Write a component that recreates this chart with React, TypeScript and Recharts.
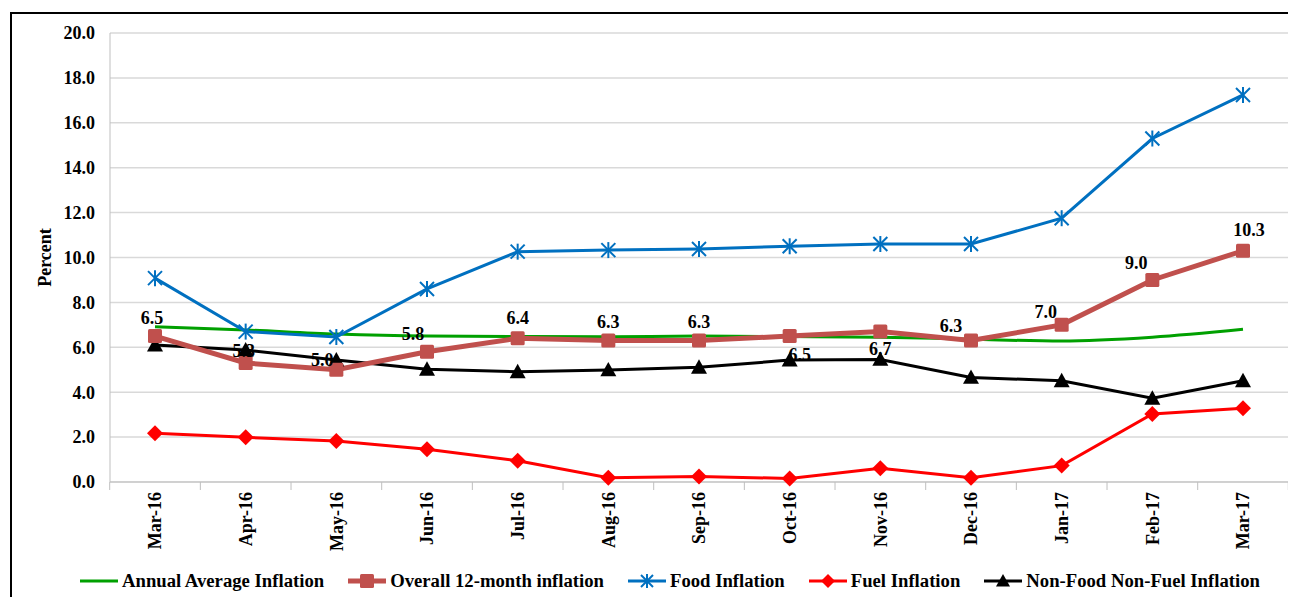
import React from 'react';
import { LineChart, Line, XAxis, YAxis, CartesianGrid, Legend, Label } from 'recharts';

const months = ['Mar-16', 'Apr-16', 'May-16', 'Jun-16', 'Jul-16', 'Aug-16', 'Sep-16', 'Oct-16', 'Nov-16', 'Dec-16', 'Jan-17', 'Feb-17', 'Mar-17'];
const annualAverage = [6.92, 6.77, 6.59, 6.5, 6.48, 6.47, 6.5, 6.48, 6.45, 6.36, 6.28, 6.45, 6.8];
const overall = [6.5, 5.3, 5.0, 5.8, 6.4, 6.3, 6.3, 6.5, 6.7, 6.3, 7.0, 9.0, 10.3];
const food = [9.08, 6.7, 6.46, 8.6, 10.26, 10.33, 10.38, 10.5, 10.6, 10.6, 11.75, 15.3, 17.24];
const fuel = [2.17, 1.99, 1.83, 1.46, 0.95, 0.19, 0.24, 0.16, 0.61, 0.19, 0.73, 3.03, 3.28];
const nonFoodNonFuel = [6.1, 5.88, 5.43, 5.02, 4.91, 4.99, 5.11, 5.43, 5.46, 4.66, 4.51, 3.73, 4.51];
const yTicks = [0, 2, 4, 6, 8, 10, 12, 14, 16, 18, 20];

const seriesNames = {
  annual: 'Annual Average Inflation',
  overall: 'Overall 12-month inflation',
  food: 'Food Inflation',
  fuel: 'Fuel Inflation',
  nonFood: 'Non-Food Non-Fuel Inflation',
};

const data = months.map((m, i) => ({
  month: m,
  annual: annualAverage[i],
  overall: overall[i],
  food: food[i],
  fuel: fuel[i],
  nonFood: nonFoodNonFuel[i],
}));

const FONT = 'Liberation Serif';
const C_GREEN = '#00a000';
const C_OVERALL = '#c0504d';
const C_FOOD = '#0070c0';
const C_FUEL = '#ff0000';
const C_BLACK = '#000000';

const Square = ({ cx, cy, s = 7, color = C_OVERALL }: any) =>
  cx == null ? null : <rect x={cx - s} y={cy - s} width={2 * s} height={2 * s} rx={1.5} fill={color} />;
const Star = ({ cx, cy, s = 7, color = C_FOOD }: any) =>
  cx == null ? null : (
    <g stroke={color} strokeWidth={2}>
      <line x1={cx} y1={cy - s - 1} x2={cx} y2={cy + s + 1} />
      <line x1={cx - s} y1={cy - s} x2={cx + s} y2={cy + s} />
      <line x1={cx - s} y1={cy + s} x2={cx + s} y2={cy - s} />
    </g>
  );
const Diamond = ({ cx, cy, s = 8, color = C_FUEL }: any) =>
  cx == null ? null : <polygon points={`${cx},${cy - s} ${cx + s},${cy} ${cx},${cy + s} ${cx - s},${cy}`} fill={color} />;
const Triangle = ({ cx, cy, s = 8, color = C_BLACK }: any) =>
  cx == null ? null : <polygon points={`${cx},${cy - s} ${cx + s},${cy + s * 0.8} ${cx - s},${cy + s * 0.8}`} fill={color} />;

const labelOffsets: [number, number][] = [
  [-3, -18], [-2, -12], [-14, -10], [-14, -18], [0, -20], [0, -19], [0, -19], [10, 19], [0, 17], [-20, -15], [-16, -13], [-16, -17], [6, -21],
];

const OverallLabel = (props: any) => {
  const { x, y, value, index } = props;
  if (x == null) return null;
  const [dx, dy] = labelOffsets[index] || [0, -18];
  return (
    <text x={x + dx} y={y + dy} textAnchor="middle" dominantBaseline="central" style={{ fontFamily: FONT }} fontWeight="bold" fontSize={18} fill="#000">
      {Number(value).toFixed(1)}
    </text>
  );
};

const XTick = (props: any) => {
  const { x, y, payload, index, width, visibleTicksCount } = props;
  const n = visibleTicksCount || 13;
  const half = width / n / 2;
  return (
    <g>
      <line x1={x - half} y1={y} x2={x - half} y2={y + 8} stroke="#bfbfbf" />
      {index === n - 1 && <line x1={x + half} y1={y} x2={x + half} y2={y + 8} stroke="#bfbfbf" />}
      <text x={x} y={y + 10} transform={`rotate(-90, ${x}, ${y + 10})`} textAnchor="end" dy="0.35em" style={{ fontFamily: FONT }} fontWeight="bold" fontSize={18} fill="#000">
        {payload.value}
      </text>
    </g>
  );
};

const legendItems = [
  { name: seriesNames.annual, color: C_GREEN, marker: null, w: 3 },
  { name: seriesNames.overall, color: C_OVERALL, marker: Square, w: 5 },
  { name: seriesNames.food, color: C_FOOD, marker: Star, w: 3 },
  { name: seriesNames.fuel, color: C_FUEL, marker: Diamond, w: 3 },
  { name: seriesNames.nonFood, color: C_BLACK, marker: Triangle, w: 3 },
];

const LegendContent = () => (
  <div style={{ display: 'flex', alignItems: 'center', height: 30, paddingLeft: 72, fontFamily: FONT, fontWeight: 'bold', fontSize: 18.7, color: '#000' }}>
    {legendItems.map((it, i) => {
      const M: any = it.marker;
      return (
        <div key={i} style={{ display: 'flex', alignItems: 'center', marginRight: 24 }}>
          <svg width={38} height={18} style={{ marginRight: 4 }}>
            <line x1={0} y1={9} x2={38} y2={9} stroke={it.color} strokeWidth={it.w} />
            {M && <M cx={19} cy={9} s={it.marker === Square ? 7 : it.marker === Star ? 6 : 7} color={it.color} />}
          </svg>
          <span>{it.name}</span>
        </div>
      );
    })}
  </div>
);

const YLabel = (props: any) => {
  const vb = props.viewBox || {};
  const x = 37;
  const y = (vb.y || 0) + (vb.height || 0) / 2;
  return (
    <text x={x} y={y} transform={`rotate(-90, ${x}, ${y})`} textAnchor="middle" dominantBaseline="central" style={{ fontFamily: FONT }} fontWeight="bold" fontSize={18} fill="#000">
      Percent
    </text>
  );
};

export default function App() {
  return (
    <div style={{ position: 'relative', width: 1288, height: 589, fontFamily: FONT }}>
      <div style={{ position: 'absolute', left: 2, top: 4, width: 1286, height: 585, borderTop: '2px solid #000', borderLeft: '2px solid #000', boxSizing: 'border-box' }} />
      <LineChart width={1288} height={589} data={data} margin={{ top: 25, right: 8, bottom: 1, left: 0 }}>
        <CartesianGrid horizontal vertical={false} stroke="#d9d9d9" strokeWidth={1.5} />
        <XAxis dataKey="month" stroke="#bfbfbf" tickLine={false} tickSize={0} tickMargin={0} height={84} interval={0} padding={{ left: 45, right: 45 }} tick={<XTick />} />
        <YAxis
          domain={[0, 20]}
          ticks={yTicks}
          width={102}
          stroke="#bfbfbf"
          tickLine={false}
          tickSize={0}
          tickMargin={15}
          tickFormatter={(v: number) => v.toFixed(1)}
          tick={{ style: { fontFamily: FONT }, fontWeight: 'bold', fontSize: 18, fill: '#000' }}
        >
          <Label content={<YLabel />} />
        </YAxis>
        <Legend verticalAlign="bottom" content={<LegendContent />} wrapperStyle={{ left: 0, width: 1288 }} />
        <Line type="monotone" dataKey="annual" name={seriesNames.annual} stroke={C_GREEN} strokeWidth={3} dot={false} isAnimationActive={false} />
        <Line type="linear" dataKey="food" name={seriesNames.food} stroke={C_FOOD} strokeWidth={3} dot={(p: any) => <Star key={p.index} cx={p.cx} cy={p.cy} />} isAnimationActive={false} />
        <Line type="linear" dataKey="fuel" name={seriesNames.fuel} stroke={C_FUEL} strokeWidth={3} dot={(p: any) => <Diamond key={p.index} cx={p.cx} cy={p.cy} />} isAnimationActive={false} />
        <Line type="linear" dataKey="nonFood" name={seriesNames.nonFood} stroke={C_BLACK} strokeWidth={3} dot={(p: any) => <Triangle key={p.index} cx={p.cx} cy={p.cy} />} isAnimationActive={false} />
        <Line type="linear" dataKey="overall" name={seriesNames.overall} stroke={C_OVERALL} strokeWidth={5} dot={(p: any) => <Square key={p.index} cx={p.cx} cy={p.cy} />} label={<OverallLabel />} isAnimationActive={false} />
      </LineChart>
    </div>
  );
}
